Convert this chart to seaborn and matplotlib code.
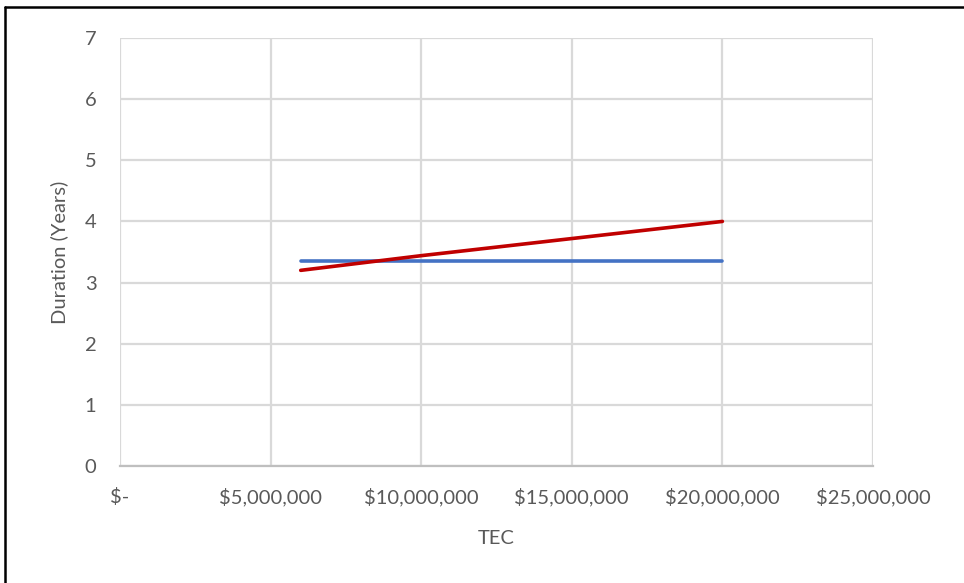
import matplotlib
matplotlib.use("Agg")
import matplotlib.pyplot as plt
from matplotlib.lines import Line2D
import seaborn as sns
import pandas as pd

# Series data
tec_flat = [6_000_000, 20_000_000]
duration_flat = [3.35, 3.35]
tec_trend = [6_000_000, 10_000_000, 15_000_000, 20_000_000]
duration_trend = [3.2, 3.44, 3.72, 4.0]

x_ticks = [0, 5_000_000, 10_000_000, 15_000_000, 20_000_000, 25_000_000]
x_tick_labels = ["$-", "$5,000,000", "$10,000,000", "$15,000,000", "$20,000,000", "$25,000,000"]
y_ticks = [0, 1, 2, 3, 4, 5, 6, 7]

sns.set_theme(style="whitegrid")
plt.rcParams["font.family"] = ["Lato", "DejaVu Sans"]

text_color = "#595959"
grid_color = "#d9d9d9"
fs = 14.5

fig = plt.figure(figsize=(9.64, 5.83), dpi=100)
W, H = 964, 583
ax = fig.add_axes([120 / W, 1 - 466 / H, (873 - 120) / W, (466 - 38) / H])

df_flat = pd.DataFrame({"TEC": tec_flat, "Duration": duration_flat})
df_trend = pd.DataFrame({"TEC": tec_trend, "Duration": duration_trend})

sns.lineplot(data=df_flat, x="TEC", y="Duration", ax=ax, color="#4472c4", linewidth=2.6)
sns.lineplot(data=df_trend, x="TEC", y="Duration", ax=ax, color="#c00000", linewidth=2.6)

ax.set_xlim(0, 25_000_000)
ax.set_ylim(0, 7)
ax.set_xticks(x_ticks)
ax.set_xticklabels(x_tick_labels)
ax.set_yticks(y_ticks)

ax.grid(True, color=grid_color, linewidth=1.6)
for side in ["top", "right", "left"]:
    ax.spines[side].set_visible(False)
ax.spines["bottom"].set_color("#bfbfbf")
ax.spines["bottom"].set_linewidth(1.6)

ax.tick_params(axis="both", length=0, labelsize=fs, colors=text_color)
ax.tick_params(axis="x", pad=16)
ax.tick_params(axis="y", pad=17)

ax.set_xlabel("TEC", fontsize=fs, color=text_color, labelpad=17)
ax.set_ylabel("Duration (Years)", fontsize=fs, color=text_color, labelpad=12)

# Outer frame around the chart
fig.add_artist(Line2D([5 / W, 1.0], [1 - 7 / H, 1 - 7 / H], color="black", linewidth=1.8,
                      transform=fig.transFigure))
fig.add_artist(Line2D([5 / W, 5 / W], [0.0, 1 - 7 / H], color="black", linewidth=1.8,
                      transform=fig.transFigure))

fig.savefig("out.png", dpi=100)
